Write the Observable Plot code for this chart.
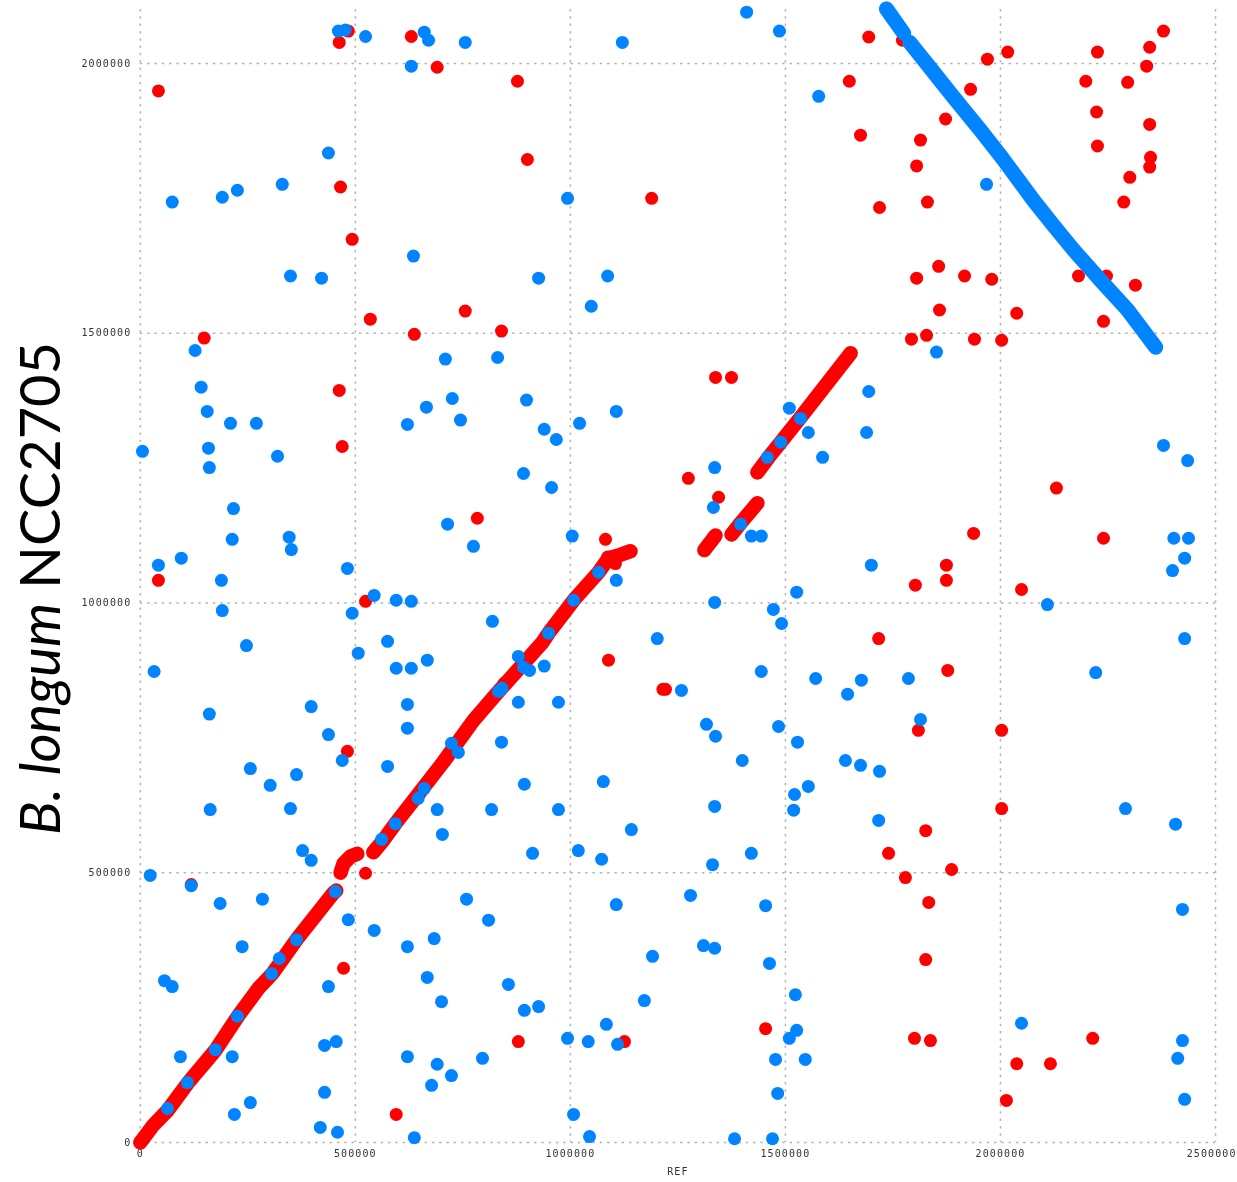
<!DOCTYPE html>
<html><head><meta charset="utf-8">
<script src="https://cdn.jsdelivr.net/npm/d3@7"></script>
<script src="https://cdn.jsdelivr.net/npm/@observablehq/plot@0.6"></script>
<style>html,body{margin:0;padding:0;background:#fff}svg{display:block;overflow:visible}
g[aria-label="dot"],g[aria-label="line"],g[aria-label="rule"]{filter:blur(.45px)}
g[aria-label$="tick label"],g[aria-label$="axis label"]{letter-spacing:1.1px;filter:blur(.45px)}
</style>
</head><body><div id="c"></div>
<script>
// All positions in kilobases: [REF, query]
const xTicks = [0,500,1000,1500,2000,2500];
const yTicks = [0,500,1000,1500,2000];
const xLabel = "REF";
const forwardHits = [[461,2039],[482,2060],[42,1949],[464,1771],[491,1674],[533,1526],[148,1491],[628,2050],[688,1993],[874,1967],[897,1822],[1185,1750],[635,1498],[753,1541],[837,1504],[461,1394],[468,1290],[42,1042],[1078,1118],[781,1157],[522,1003],[480,725],[471,323],[118,478],[522,499],[1085,894],[1217,840],[1211,840],[876,187],[593,52],[1122,187],[1449,211],[1270,1231],[1333,1418],[1370,1418],[1340,1196],[1688,2049],[1643,1967],[1669,1867],[1713,1733],[1963,2008],[2010,2021],[1924,1952],[1866,1897],[1808,1858],[1799,1810],[1824,1743],[1850,1624],[1799,1602],[1910,1606],[1973,1600],[1852,1543],[2031,1537],[1787,1489],[1822,1496],[1933,1489],[1996,1487],[2174,1606],[2239,1606],[2306,1589],[2232,1522],[2218,2021],[2191,1967],[2288,1965],[2332,1995],[2339,2030],[2371,2060],[2216,1910],[2339,1887],[2218,1847],[2341,1826],[2339,1808],[2293,1789],[2279,1743],[2123,1213],[2232,1120],[1931,1129],[1868,1070],[1868,1042],[1796,1033],[2042,1025],[1711,934],[1871,875],[1803,764],[1996,764],[1996,619],[1820,578],[1734,536],[1773,491],[1880,506],[1827,445],[1820,339],[1794,193],[1831,189],[2207,193],[2031,146],[2109,146],[2007,78],[1743,2084],[1755,2071],[1766,2043],[843,851],[1083,1085],[1101,1073]];
const reverseHits = [[5,1281],[74,1743],[190,1752],[225,1765],[329,1776],[436,1834],[348,1606],[420,1602],[990,1750],[923,1602],[1083,1606],[1045,1550],[633,1643],[127,1468],[141,1400],[155,1355],[158,1287],[160,1251],[209,1333],[269,1333],[318,1272],[216,1175],[213,1118],[345,1122],[350,1099],[42,1070],[95,1083],[188,1042],[190,986],[32,873],[246,921],[480,1064],[542,1014],[491,981],[593,1005],[628,1003],[505,907],[573,929],[593,879],[628,879],[665,894],[619,812],[619,768],[396,808],[160,794],[436,756],[255,693],[362,682],[301,662],[348,619],[162,617],[468,708],[573,697],[376,541],[396,523],[23,495],[118,476],[185,443],[283,451],[482,413],[542,393],[236,363],[619,363],[681,378],[665,306],[698,261],[56,300],[74,289],[436,289],[93,159],[213,159],[218,52],[255,74],[427,180],[454,187],[427,93],[417,28],[457,19],[619,159],[688,145],[675,106],[721,124],[635,9],
[707,1452],[723,1379],[742,1339],[663,1363],[619,1331],[828,1455],[895,1376],[936,1322],[964,1303],[1018,1333],[1103,1355],[888,1240],[953,1214],[712,1146],[772,1105],[1001,1124],[1103,1042],[816,966],[1198,934],[1254,838],[1312,775],[1333,753],[1395,708],[1331,623],[1073,669],[969,816],[876,816],[837,742],[890,664],[969,617],[814,617],[688,617],[700,571],[909,536],[1015,541],[1069,525],[1138,580],[1326,515],[1416,536],[1103,441],[756,451],[807,412],[1275,458],[1305,365],[1331,360],[1187,345],[1168,263],[853,293],[890,245],[923,252],[1080,219],[990,193],[1038,187],[1106,182],[793,156],[1004,52],[1041,11],[1377,7],[1465,7],[1477,91],[1472,154],[1504,193],[1518,274],[1521,208],[1541,154],[1458,332],[1449,439],[1479,771],[1523,742],[1548,660],[1516,645],[1514,616],[1634,708],[1669,699],[1713,688],[1711,597],[1780,860],[1808,784],[1671,857],[1639,831],[1565,860],[1439,873],[1467,988],[1486,962],[1521,1020],[1331,1001],[1328,1177],[1331,1251],[1416,1124],[1439,1124],[1504,1361],[1548,1316],[1581,1270],[1683,1316],[1688,1392],[1694,1070],[1845,1465],[1961,1776],[2102,997],[2214,871],[2283,619],[2399,590],[2042,221],[2415,189],[2404,156],[2420,80],[2415,432],[2420,934],[2420,1083],[2392,1060],[2395,1120],[2429,1120],[2427,1264],[2371,1292],
[459,2060],[475,2062],[522,2050],[658,2058],[668,2043],[753,2039],[628,1995],[1117,2039],[1405,2095],[1481,2060],[1572,1939],
[63,63],[109,111],[174,172],[225,234],[304,313],[322,341],[362,376],[452,465],[559,562],[591,591],[644,638],[658,656],[721,740],[737,723],[830,836],[838,842],[876,901],[888,881],[902,875],[936,883],[946,944],[1004,1005],[1062,1057],[1391,1146],[1453,1270],[1484,1298],[1530,1342]];
// Dense collinear runs, traced as vertices
const forwardRuns = [
 [[0,0],[30,32],[63,59],[109,109],[174,171],[227,235],[274,286],[306,313],[364,378],[447,462],[454,467]],
 [[464,500],[471,517],[487,530],[503,535]],
 [[540,538],[563,560],[591,591],[642,643],[702,705],[772,782],[828,834],[932,927],[946,944],[1004,1005],[1062,1057],[1085,1083],[1108,1088],[1136,1096]],
 [[1307,1098],[1333,1125]],
 [[1370,1127],[1391,1148],[1430,1185]],
 [[1430,1242],[1456,1270],[1484,1298],[1528,1342],[1646,1463]]
];
const reverseRuns = [
 [[1729,2101],[1769,2056]],
 [[1783,2039],[1831,1991],[1885,1937],[1947,1876],[1998,1824],[2070,1746],[2116,1700],[2163,1654],[2225,1598],[2288,1543],[2353,1474]]
];
// ratio between the read scale and the axis spacing
const xCal = 1.0034;
const RED="#ff0000", BLUE="#0084ff";
const toRows = (runs)=>runs.flatMap((r,i)=>r.map(([x,y])=>({x:x*xCal,y,run:i})));
const dotted={stroke:"#b4b4b4",strokeWidth:1.5,strokeDasharray:"2.5 4.8"};
const chart = Plot.plot({
  width:1237,height:1182,
  marginLeft:139.8,marginRight:22,marginTop:9,marginBottom:40,
  style:{background:"#fff",overflow:"visible"},
  x:{domain:[0,2500]},
  y:{domain:[0,2100]},
  marks:[
    Plot.ruleX(xTicks,{...dotted}),
    Plot.ruleY(yTicks,{...dotted}),
    Plot.axisX({ticks:xTicks,tickSize:0,tickPadding:7,tickFormat:d=>String(d*1000),label:xLabel,labelAnchor:"center",labelArrow:"none",labelOffset:32,fontFamily:"DejaVu Sans Mono",fontSize:10,fill:"#333"}),
    Plot.axisY({ticks:yTicks,tickSize:0,tickPadding:9,tickFormat:d=>String(d*1000),label:null,fontFamily:"DejaVu Sans Mono",fontSize:10,fill:"#333"}),
    Plot.dot(forwardHits,{x:d=>d[0]*xCal,y:d=>d[1],r:6.5,fill:RED}),
    Plot.line(toRows(forwardRuns),{x:"x",y:"y",z:"run",stroke:RED,strokeWidth:14.5,strokeLinecap:"round",strokeLinejoin:"round"}),
    Plot.line(toRows(reverseRuns),{x:"x",y:"y",z:"run",stroke:BLUE,strokeWidth:15,strokeLinecap:"round",strokeLinejoin:"round"}),
    Plot.dot(reverseHits,{x:d=>d[0]*xCal,y:d=>d[1],r:6.5,fill:BLUE})
  ]
});
document.getElementById("c").appendChild(chart);
// keep the last x tick label inside the picture
d3.select(chart).selectAll('g[aria-label="x-axis tick label"] text')
  .filter(function(){return this.textContent==="2500000";})
  .attr("text-anchor","end").attr("dx",21);
const t=d3.select(chart).append("text")
  .attr("transform","translate(60,588.5) rotate(-90)")
  .attr("text-anchor","middle")
  .style("font-family","Lato")
  .style("font-size","56px")
  .attr("fill","#000");
t.append("tspan").style("font-style","italic").text("B. longum");
t.append("tspan").text(" NCC2705");
</script></body></html>
